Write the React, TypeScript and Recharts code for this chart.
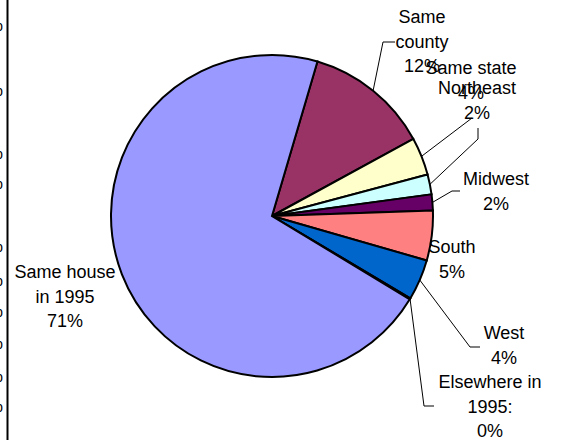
import { PieChart, Pie, Cell } from "recharts";

// slices in clockwise order, starting at the top-right edge of "Same house"
const NAMES = [
  "Same county",
  "Same state",
  "Northeast",
  "Midwest",
  "South",
  "West",
  "Elsewhere in 1995",
  "Same house in 1995",
];
const VALUES = [12.5, 3.8, 2.0, 1.6, 5.0, 4.1, 0.1, 70.9];
const PCT_LABELS = ["12%", "4%", "2%", "2%", "5%", "4%", "0%", "71%"];
const LABEL_LINES = [
  ["Same", "county"],
  ["Same state"],
  ["Northeast"],
  ["Midwest"],
  ["South"],
  ["West"],
  ["Elsewhere in", "1995:"],
  ["Same house", "in 1995"],
];
const COLORS = [
  "#993366",
  "#FFFFCC",
  "#CCFFFF",
  "#660066",
  "#FF8080",
  "#0066CC",
  "#CCCCFF",
  "#9999FF",
];

// label placement relative to pie center (text center, leader elbows)
const LABEL_LAYOUT: { dx: number; dy: number; elbows: number[][] | null }[] = [
  { dx: 150, dy: -199, elbows: [[111, -174], [123, -174]] },
  { dx: 199, dy: -148, elbows: [[200, -98]] },
  { dx: 205, dy: -128, elbows: [[206, -77], [206, -88]] },
  { dx: 224, dy: -37, elbows: [[180, -25], [188, -25]] },
  { dx: 180, dy: 31, elbows: null },
  { dx: 232, dy: 117, elbows: [[198, 131], [208, 131]] },
  { dx: 218, dy: 166, elbows: [[152, 190], [162, 190]] },
  { dx: -207, dy: 56, elbows: null },
];

// clipped "%" fragments of a neighbouring axis at the left edge
const EDGE_MARKS_Y = [27, 92, 155, 185, 248, 282, 313, 345, 378, 408];

const data = NAMES.map((name, i) => ({ name, value: VALUES[i] }));

const FONT = "'Liberation Sans', Arial, sans-serif";
const RAD = Math.PI / 180;
const LINE_H = 24.5;

function renderLabel(props: any) {
  const { cx, cy, midAngle, outerRadius, index } = props;
  const layout = LABEL_LAYOUT[index];
  const lines = [...LABEL_LINES[index], PCT_LABELS[index]];
  const tx = cx + layout.dx;
  const ty = cy + layout.dy;
  let path = null;
  if (layout.elbows) {
    const sx = cx + outerRadius * Math.cos(-midAngle * RAD);
    const sy = cy + outerRadius * Math.sin(-midAngle * RAD);
    const pts = [[sx, sy], ...layout.elbows.map(([x, y]) => [cx + x, cy + y])];
    path = (
      <polyline
        points={pts.map((p) => p.join(",")).join(" ")}
        fill="none"
        stroke="#000"
        strokeWidth={1}
      />
    );
  }
  return (
    <g key={`lbl-${index}`}>
      {path}
      {lines.map((t, i) => (
        <text
          key={i}
          x={tx}
          y={ty + i * LINE_H}
          dy="0.35em"
          textAnchor="middle"
          fill="#000"
          fontSize={18}
          fontFamily={FONT}
        >
          {t}
        </text>
      ))}
    </g>
  );
}

export default function App() {
  return (
    <div
      style={{
        position: "absolute",
        left: 0,
        top: 0,
        width: 561,
        height: 440,
        background: "#fff",
      }}
    >
      <svg
        width={561}
        height={440}
        style={{ position: "absolute", left: 0, top: 0 }}
      >
        <line x1={7.5} y1={0} x2={7.5} y2={440} stroke="#000" strokeWidth={2} />
        {EDGE_MARKS_Y.map((y, i) => (
          <text
            key={i}
            x={3}
            y={y + 4}
            textAnchor="end"
            fontSize={18}
            fontFamily={FONT}
            fill="#000"
          >
            %
          </text>
        ))}
      </svg>
      <div style={{ position: "absolute", left: 0, top: 0 }}>
        <PieChart
          width={561}
          height={440}
          margin={{ top: 0, right: 0, bottom: 0, left: 0 }}
        >
          <Pie
            data={data}
            dataKey="value"
            nameKey="name"
            cx={272}
            cy={216}
            outerRadius={161}
            startAngle={73.6}
            endAngle={73.6 - 360}
            stroke="#000"
            strokeWidth={2}
            label={renderLabel}
            labelLine={false}
            isAnimationActive={false}
          >
            {data.map((d, i) => (
              <Cell key={d.name} fill={COLORS[i]} />
            ))}
          </Pie>
        </PieChart>
      </div>
    </div>
  );
}
